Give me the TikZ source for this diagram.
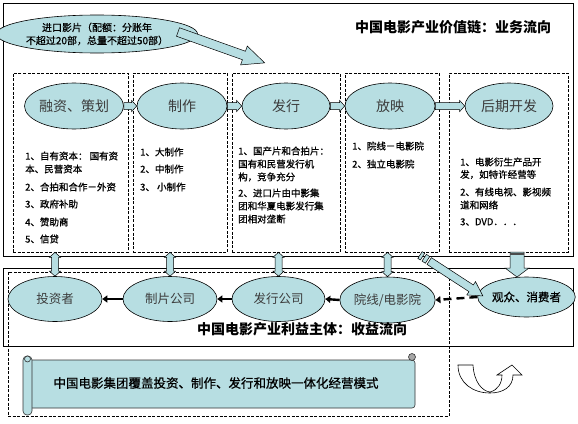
\documentclass[tikz,border=0pt]{standalone}
\usepackage{fontspec}
\setmainfont{Noto Sans CJK SC}
\newfontfamily\semibold[FakeBold=0.8]{Noto Sans CJK SC}
\usetikzlibrary{shapes.geometric,calc,arrows.meta}
\definecolor{eblue}{RGB}{183,222,226}
\definecolor{etext}{RGB}{60,60,60}
\tikzset{
  ell/.style={ellipse,draw=black,line width=0.6pt,fill=eblue,inner sep=0pt,text=etext},
  colbox/.style={draw=black,dash pattern=on 3pt off 1.5pt,line width=0.6pt,inner sep=0pt},
  solidbox/.style={draw=black,line width=0.8pt,inner sep=0pt},
  blk/.style={draw=black,line width=0.5pt,fill=eblue},
  coltext/.style={anchor=west,font=\semibold\fontsize{9.5}{11}\selectfont,inner sep=0pt},
  titletext/.style={font=\fontsize{14}{16}\selectfont\bfseries,inner sep=0pt},
  blackarr/.style={line width=2.4pt,-{Triangle[length=5pt,width=7pt]}},
  bigtext/.style={font=\fontsize{14}{16}\selectfont},
  midtext/.style={font=\fontsize{12.5}{14}\selectfont},
}
\newcommand\hblk[2]{\path[blk] let \p1=(#1), \p2=(#2) in
  (\x1,\y1+3.5pt) -- (\x2-5pt,\y1+3.5pt) -- (\x2-5pt,\y1+5.5pt) -- (\x2,\y1) --
  (\x2-5pt,\y1-5.5pt) -- (\x2-5pt,\y1-3.5pt) -- (\x1,\y1-3.5pt) -- cycle;}
\newcommand\vdbl[2]{\path[blk] let \p1=(#1), \p2=(#2) in
  (\x2,\y1) -- (\x2+5.5pt,\y1-5pt) -- (\x2+3.5pt,\y1-5pt) -- (\x2+3.5pt,\y2+5pt) --
  (\x2+5.5pt,\y2+5pt) -- (\x2,\y2) -- (\x2-5.5pt,\y2+5pt) -- (\x2-3.5pt,\y2+5pt) --
  (\x2-3.5pt,\y1-5pt) -- (\x2-5.5pt,\y1-5pt) -- cycle;}
\begin{document}
\begin{tikzpicture}[x=1pt,y=-1pt]
\useasboundingbox (0,0) rectangle (578,423);
\fill[white] (0,0) rectangle (578,423);
% outer boxes
\node[solidbox,minimum width=570pt,minimum height=253pt] (topbox) at (288,129.5) {};
\node[solidbox,minimum width=570pt,minimum height=78pt] (botbox) at (288,307) {};
\node[colbox,minimum width=441pt,minimum height=144pt] (intbox) at (228.5,344) {};
% title
\node[titletext] (t1) at (453,27) {中国电影产业价值链：业务流向};
% columns
\node[colbox,minimum width=115pt,minimum height=179pt] (c1) at (70.5,162.5) {};
\node[colbox,minimum width=94pt,minimum height=179pt] (c2) at (180,162.5) {};
\node[colbox,minimum width=108pt,minimum height=179pt] (c3) at (286,162.5) {};
\node[colbox,minimum width=94pt,minimum height=179pt] (c4) at (392,162.5) {};
\node[colbox,minimum width=119pt,minimum height=179pt] (c5) at (508.5,162.5) {};
% import ellipse
\node[ell,minimum width=160pt,minimum height=38pt,align=center,text=black,
      font=\semibold\fontsize{10}{13}\selectfont] (imp) at (97,34) {进口影片（配额：分账年\\不超过20部，总量不超过50部）};
% top ellipses
\node[ell,minimum width=82pt,minimum height=46pt,bigtext] (e1) at (74,106) {融资、策划};
\node[ell,minimum width=90pt,minimum height=46pt,bigtext] (e2) at (182,106) {制作};
\node[ell,minimum width=88pt,minimum height=46pt,bigtext] (e3) at (286,106) {发行};
\node[ell,minimum width=90pt,minimum height=46pt,bigtext] (e4) at (390,106) {放映};
\node[ell,minimum width=88pt,minimum height=46pt,bigtext] (e5) at (509,106) {后期开发};
\hblk{e1.east}{e2.west}
\hblk{e2.east}{e3.west}
\hblk{e3.east}{e4.west}
\hblk{e4.east}{e5.west}
% big arrow from import ellipse
\begin{scope}[shift={(178,32)},rotate=-19.6]
  \path[blk] (0,4.5) -- (70,4.5) -- (70,10) -- (92,0) -- (70,-10) -- (70,-4.5) -- (0,-4.5) -- cycle;
\end{scope}
% column texts
\node[coltext] (a1) at (25,156) {1、自有资本： 国有资};
\node[coltext] (a2) at (25,169) {本、民营资本};
\node[coltext] (a3) at (25,187) {2、合拍和合作－外资};
\node[coltext] (a4) at (25,204) {3、政府补助};
\node[coltext] (a5) at (25,222) {4、赞助商};
\node[coltext] (a6) at (25,239) {5、信贷};
\node[coltext] (b1t) at (140,152) {1、大制作};
\node[coltext] (b2t) at (140,169) {2、中制作};
\node[coltext] (b3t) at (140,187) {3、 小制作};
\node[coltext] (d1) at (238,151) {1、国产片和合拍片：};
\node[coltext] (d2) at (238,164) {国有和民营发行机};
\node[coltext] (d3) at (238,177) {构，竞争充分};
\node[coltext] (d4) at (238,193) {2、进口片由中影集};
\node[coltext] (d5) at (238,206) {团和华夏电影发行集};
\node[coltext] (d6) at (238,219) {团相对垄断};
\node[coltext] (f1) at (352,146) {1、院线－电影院};
\node[coltext] (f2) at (352,164) {2、独立电影院};
\node[coltext] (g1) at (460,162) {1、电影衍生产品开};
\node[coltext] (g2) at (460,174.5) {发，如特许经营等};
\node[coltext] (g3) at (460,192) {2、有线电视、影视频};
\node[coltext] (g4) at (460,205) {道和网络};
\node[coltext] (g5) at (460,222) {3、DVD．．．};
% bottom ellipses
\node[ell,minimum width=94pt,minimum height=45pt,midtext] (b1) at (55,299) {投资者};
\node[ell,minimum width=94pt,minimum height=45pt,midtext] (b2) at (170,299) {制片公司};
\node[ell,minimum width=93pt,minimum height=45pt,midtext] (b3) at (278.5,299) {发行公司};
\node[ell,minimum width=95pt,minimum height=46pt,midtext] (b4) at (387.5,300) {院线/电影院};
\node[ell,minimum width=87pt,minimum height=40pt,text=black,font=\semibold\fontsize{11.5}{13}\selectfont] (b5) at (526.5,297) {观众、消费者};
\draw[blackarr] (b2.west) -- (b1.east);
\draw[blackarr] (b3.west) -- (b2.east);
\draw[blackarr] (b4.west) -- (b3.east);
\draw[blackarr,dash pattern=on 8pt off 5pt] (b5.west) -- (b4.east);
% vertical double arrows
\vdbl{c1.south}{b1.north}
\vdbl{c2.south}{b2.north}
\vdbl{c3.south}{b3.north}
\vdbl{c4.south}{b4.north}
% down arrow to audience
\path[blk] (510,252) -- (524,252) -- (524,268) -- (529,268) -- (517,277) -- (505,268) -- (510,268) -- cycle;
\fill[black!70] (510,252.5) rectangle (524,254.5);
% striped diagonal arrow
\begin{scope}[shift={(420,255)},rotate=-33.06]
  \path[blk] (0,4) -- (3,4) -- (3,-4) -- (0,-4) -- cycle;
  \path[blk] (5,4) -- (9,4) -- (9,-4) -- (5,-4) -- cycle;
  \path[blk] (11,4) -- (61,4) -- (61,8) -- (75,0) -- (61,-8) -- (61,-4) -- (11,-4) -- cycle;
\end{scope}
% title 2
\node[titletext] (t2) at (302,329) {中国电影产业利益主体：收益流向};
% scroll
\draw[line width=0.6pt,draw=black!80,fill=eblue,rounded corners=3pt] (29,360) rectangle (415,408);
\draw[line width=0.6pt,draw=black!80,fill=eblue,rounded corners=4pt] (23,356) rectangle (32,415);
\draw[line width=0.6pt,draw=black!80,fill=eblue] (27.5,359) circle (3pt);
\draw[line width=0.6pt,draw=black!80,fill=black!35] (412,357) circle (3.5pt);
\node[font=\semibold\fontsize{12.5}{14}\selectfont,inner sep=0pt] (sc) at (216,383) {中国电影集团覆盖投资、制作、发行和放映一体化经营模式};
% U-turn arrow
\draw[line width=0.6pt,draw=black,fill=white] (458,365) -- (473,365)
  .. controls (474,382) and (482,391) .. (490,392)
  .. controls (498,390) and (502,383) .. (502,375)
  -- (497,375) -- (512,365) -- (522,375) -- (513,375)
  .. controls (513,387) and (503,393) .. (490,393)
  .. controls (473,393) and (458,383) .. (458,365) -- cycle;
\end{tikzpicture}
\end{document}
